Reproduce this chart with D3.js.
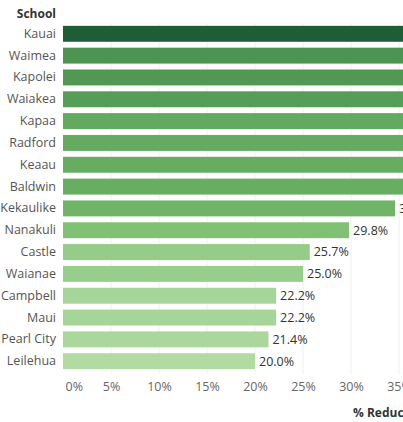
<!DOCTYPE html>
<html>
<head>
<meta charset="utf-8">
<script src="https://cdn.jsdelivr.net/npm/d3@7"></script>
<style>
  body { margin: 0; background: #fff; }
  svg { display: block; font-family: "Open Sans", sans-serif; }
</style>
</head>
<body>
<svg width="403" height="422"></svg>
<script>
// schools and % reduction (values past ~35% are cut off in the picture, estimated)
var schools = ["Kauai", "Waimea", "Kapolei", "Waiakea", "Kapaa", "Radford", "Keaau", "Baldwin",
  "Kekaulike", "Nanakuli", "Castle", "Waianae", "Campbell", "Maui", "Pearl City", "Leilehua"];
var reduction = [60.0, 46.0, 45.0, 43.0, 39.0, 38.5, 38.0, 37.5,
  34.6, 29.8, 25.7, 25.0, 22.2, 22.2, 21.4, 20.0];
var tickValues = [0, 5, 10, 15, 20, 25, 30, 35];

var data = schools.map(function (s, i) { return { school: s, value: reduction[i] }; });

var svg = d3.select("svg");

var x = d3.scaleLinear().domain([0, 35]).range([63, 399]);   // plot clipped at right edge
var y = d3.scaleBand().domain(schools).range([23, 372]).paddingInner(0.27).paddingOuter(0.13);

var color = d3.scaleLinear()
  .domain([20, 30, 35, 45, 60])
  .range(["#b0dba2", "#80c074", "#6fb466", "#509854", "#1e5e36"]);

// gridlines
svg.append("g").selectAll("line")
  .data(tickValues.slice(1))
  .enter().append("line")
  .attr("x1", function (d) { return x(d); })
  .attr("x2", function (d) { return x(d); })
  .attr("y1", 23)
  .attr("y2", 374)
  .attr("stroke", "#f0f0f0");

// header
svg.append("text")
  .attr("x", 56)
  .attr("y", 18)
  .attr("text-anchor", "end")
  .attr("font-size", "12px")
  .attr("font-weight", "bold")
  .attr("fill", "#333")
  .text("School");

// school labels
var yaxis = svg.append("g")
  .attr("transform", "translate(57,0)")
  .call(d3.axisLeft(y).tickSize(0).tickPadding(1));
yaxis.select(".domain").remove();
yaxis.selectAll("text").attr("font-size", "12.5px").attr("fill", "#555").attr("font-family", "'Open Sans', sans-serif");

// bars
svg.selectAll(".bar")
  .data(data)
  .enter().append("rect")
  .attr("class", "bar")
  .attr("x", x(0))
  .attr("y", function (d) { return y(d.school); })
  .attr("width", function (d) { return x(d.value) - x(0); })
  .attr("height", y.bandwidth())
  .attr("fill", function (d) { return color(d.value); });

// value labels
svg.selectAll(".val")
  .data(data)
  .enter().append("text")
  .attr("class", "val")
  .attr("x", function (d) { return x(d.value) + 4; })
  .attr("y", function (d) { return y(d.school) + y.bandwidth() / 2; })
  .attr("dy", "0.35em")
  .attr("font-size", "12.5px")
  .attr("fill", "#333")
  .text(function (d) { return d.value.toFixed(1) + "%"; });

// x axis
var xaxis = svg.append("g")
  .attr("transform", "translate(0,378)")
  .call(d3.axisBottom(x).tickValues(tickValues).tickSize(0).tickPadding(4)
    .tickFormat(function (d) { return d + "%"; }));
xaxis.select(".domain").remove();
xaxis.selectAll("text").attr("font-size", "12.5px").attr("fill", "#666").attr("font-family", "'Open Sans', sans-serif");
xaxis.selectAll("text").filter(function (d) { return d === 0; })
  .attr("text-anchor", "start").attr("x", 2);

// axis title
svg.append("text")
  .attr("x", 353)
  .attr("y", 417)
  .attr("font-size", "12px")
  .attr("font-weight", "bold")
  .attr("fill", "#333")
  .text("% Reduction");
</script>
</body>
</html>
